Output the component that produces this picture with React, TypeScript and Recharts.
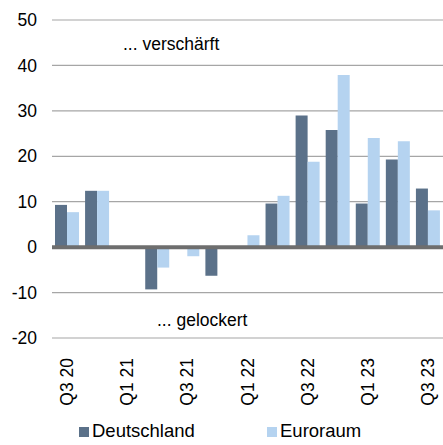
import React from 'react';
import { BarChart, Bar, XAxis, YAxis, CartesianGrid, ReferenceLine, Legend } from 'recharts';

const quarters = ['Q3 20', 'Q4 20', 'Q1 21', 'Q2 21', 'Q3 21', 'Q4 21', 'Q1 22', 'Q2 22', 'Q3 22', 'Q4 22', 'Q1 23', 'Q2 23', 'Q3 23'];
const deutschland = [9.3, 12.4, 0, -9.3, 0, -6.3, 0, 9.6, 29.0, 25.8, 9.6, 19.3, 12.9];
const euroraum = [7.7, 12.4, 0, -4.5, -2.0, 0, 2.6, 11.3, 18.8, 37.9, 24.0, 23.3, 8.1];
const yTicks = [-20, -10, 0, 10, 20, 30, 40, 50];

const data = quarters.map((q, i) => ({ q, Deutschland: deutschland[i], Euroraum: euroraum[i] }));

const FONT = 'Liberation Sans, Arial, sans-serif';
const C_DE = '#5b7189';
const C_EU = '#b5d3f0';

const XTick = (props: any) => {
  const { x, y, payload } = props;
  return (
    <text x={x} y={y} transform={`rotate(-90, ${x}, ${y})`} textAnchor="end" dy={6} dx={-12} fontSize={17.5} fontFamily={FONT} fill="#000">
      {payload.value}
    </text>
  );
};

const LegendContent = () => (
  <div style={{ position: 'relative', height: 37, fontFamily: FONT, fontSize: 18.5, color: '#000' }}>
    <div style={{ position: 'absolute', left: 79, top: 19, width: 10, height: 10, background: C_DE }} />
    <div style={{ position: 'absolute', left: 92, top: 13, lineHeight: '20px' }}>Deutschland</div>
    <div style={{ position: 'absolute', left: 267, top: 19, width: 10, height: 10, background: C_EU }} />
    <div style={{ position: 'absolute', left: 280, top: 13, lineHeight: '20px' }}>Euroraum</div>
  </div>
);

export default function App() {
  return (
    <div style={{ position: 'absolute', left: 0, top: 0 }}>
      <BarChart width={443} height={445} data={data} margin={{ top: 20, right: 0, bottom: 0, left: 0 }} barCategoryGap={3} barGap={0}>
        <CartesianGrid vertical={false} stroke="#a6a6a6" strokeWidth={1.2} />
        <XAxis dataKey="q" interval={1} axisLine={false} tickLine={false} height={70} tick={<XTick />} />
        <YAxis domain={[-20, 50]} ticks={yTicks} axisLine={false} tickLine={false} width={52} tickMargin={9}
          tick={{ fontSize: 17.5, fontFamily: FONT, fill: '#000' }} interval={0} />
        <Legend verticalAlign="bottom" height={37} content={<LegendContent />} wrapperStyle={{ left: 0, width: 443 }} />
        <Bar dataKey="Deutschland" fill={C_DE} isAnimationActive={false} />
        <Bar dataKey="Euroraum" fill={C_EU} isAnimationActive={false} />
        <ReferenceLine y={0} stroke="#6e6e6e" strokeWidth={4} />
        <ReferenceLine y={44.8} stroke="none" label={{ value: '... verschärft', position: 'insideLeft', dx: 66, fontSize: 17.5, fontFamily: FONT, fill: '#000' }} />
        <ReferenceLine y={-16.1} stroke="none" label={{ value: '... gelockert', position: 'insideLeft', dx: 100, fontSize: 17.5, fontFamily: FONT, fill: '#000' }} />
      </BarChart>
    </div>
  );
}
